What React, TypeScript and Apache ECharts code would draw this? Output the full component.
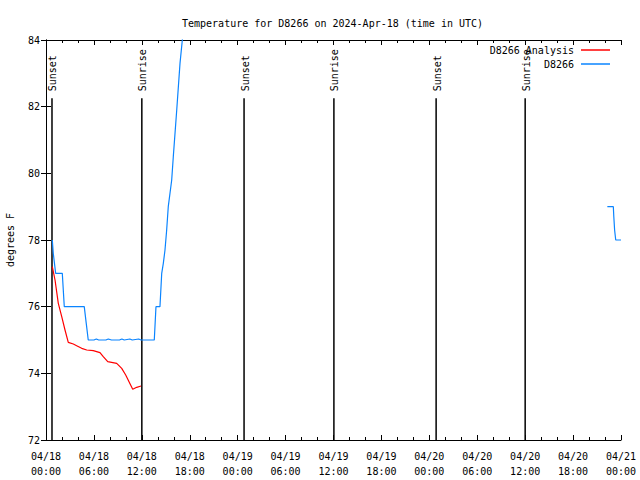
import React, { useEffect, useRef } from "react";
import * as echarts from "echarts";

// hours since 2024-04-18 00:00 UTC
const xTickHours = [0, 6, 12, 18, 24, 30, 36, 42, 48, 54, 60, 66, 72];
const xTickLabels = [
  "04/18\n00:00", "04/18\n06:00", "04/18\n12:00", "04/18\n18:00",
  "04/19\n00:00", "04/19\n06:00", "04/19\n12:00", "04/19\n18:00",
  "04/20\n00:00", "04/20\n06:00", "04/20\n12:00", "04/20\n18:00",
  "04/21\n00:00",
];
const yTicks = [72, 74, 76, 78, 80, 82, 84];

const sunEventHours = [0.75, 12.0, 24.8, 36.05, 48.85, 60.0];
const sunEventNames = ["Sunset", "Sunrise", "Sunset", "Sunrise", "Sunset", "Sunrise"];

const analysisHours = [0.79, 1.13, 1.54, 1.97, 2.38, 2.79, 3.42, 3.84, 4.47, 5.1, 5.92, 6.76, 7.17, 7.73, 8.85, 9.48, 9.98, 10.86, 11.36, 11.9];
const analysisTemps = [77.2, 76.8, 76.1, 75.7, 75.3, 74.93, 74.88, 74.83, 74.75, 74.7, 74.68, 74.62, 74.5, 74.35, 74.3, 74.15, 73.95, 73.52, 73.58, 73.62];

const obsHours = [
  0.79, 0.91, 1.21, 2.04, 2.29, 4.79, 5.04, 5.29, 6.0, 6.3, 6.6, 7.5, 7.8, 8.2, 9.2, 9.5, 9.8, 10.5, 10.8, 11.6, 11.9,
  13.56, 13.77, 14.27, 14.49, 14.69, 14.9, 15.11, 15.31, 15.74, 15.94, 16.37, 16.78, 17.07, 17.5, 18.0,
  null,
  70.29, 71.04, 71.1, 71.2, 71.34, 72.0,
];
const obsTemps = [
  78, 77.6, 77, 77, 76, 76, 75.5, 75, 75, 75.03, 75, 75, 75.03, 75, 75, 75.03, 75, 75.03, 75, 75.03, 75,
  75, 76, 76, 77, 77.3, 77.7, 78.3, 79, 79.8, 80.5, 81.9, 83.3, 84, 85, 86,
  null,
  79, 79, 78.7, 78.3, 78, 78,
];

const FONT = "DejaVu Sans Mono";

export default function App() {
  const ref = useRef<HTMLDivElement>(null);
  useEffect(() => {
    if (!ref.current) return;
    const chart = echarts.init(ref.current, null, { renderer: "svg" });
    const labelFor = (v: number) => {
      const i = xTickHours.indexOf(Math.round(v));
      return i >= 0 ? xTickLabels[i] : "";
    };
    const xBase = {
      type: "value" as const,
      min: 0,
      max: 72,
      interval: 6,
      splitLine: { show: false },
      axisLine: { show: true, lineStyle: { color: "#000", width: 1 } },
      axisTick: { show: true, inside: true, length: 5, lineStyle: { color: "#000" } },
      minorTick: { show: true, splitNumber: 3, length: 3, lineStyle: { color: "#000" } },
    };
    const yBase = {
      type: "value" as const,
      min: 72,
      max: 84,
      interval: 2,
      splitLine: { show: false },
      axisLine: { show: true, lineStyle: { color: "#000", width: 1 } },
      axisTick: { show: true, inside: true, length: 5, lineStyle: { color: "#000" } },
    };
    const pair = (xs: (number | null)[], ys: (number | null)[]) =>
      xs.map((x, i) => (x === null || ys[i] === null ? [null, null] : [x, ys[i]]));

    const legendBase = {
      right: 30,
      padding: 0,
      align: "right",
      icon: "rect",
      itemWidth: 29,
      itemHeight: 1.5,
      itemGap: 0,
      textStyle: { fontFamily: FONT, fontSize: 10, color: "#000", padding: [0, 2, 0, 0] },
    };

    chart.setOption({
      animation: false,
      backgroundColor: "#fff",
      textStyle: { fontFamily: FONT },
      title: {
        text: "Temperature for D8266 on 2024-Apr-18 (time in UTC)",
        left: 177,
        top: 13,
        textStyle: { fontFamily: FONT, fontSize: 10, fontWeight: "normal", color: "#000" },
      },
      grid: { left: 46, right: 19, top: 40, bottom: 40, show: false, containLabel: false, outerBoundsMode: "none" },
      legend: [
        { ...legendBase, data: ["D8266 Analysis"], top: 45 },
        { ...legendBase, data: ["D8266"], top: 59 },
      ],
      xAxis: [
        {
          ...xBase,
          position: "bottom",
          axisLabel: {
            show: true,
            margin: 9,
            fontFamily: FONT,
            fontSize: 10,
            color: "#000",
            lineHeight: 15,
            formatter: (v: number) => labelFor(v),
          },
        },
        { ...xBase, position: "top", axisLabel: { show: false } },
      ],
      yAxis: [
        {
          ...yBase,
          position: "left",
          name: "degrees F",
          nameLocation: "middle",
          nameGap: 31,
          nameRotate: 90,
          nameTextStyle: { fontFamily: FONT, fontSize: 10, color: "#000" },
          axisLabel: {
            show: true,
            margin: 6,
            fontFamily: FONT,
            fontSize: 10,
            color: "#000",
            formatter: (v: number) => (yTicks.includes(v) ? String(v) : ""),
          },
        },
        { ...yBase, position: "right", axisLabel: { show: false } },
      ],
      series: [
        {
          name: "Sun",
          type: "custom",
          xAxisIndex: 0,
          yAxisIndex: 0,
          clip: false,
          silent: true,
          data: sunEventHours.map((h) => [h]),
          encode: { x: 0 },
          renderItem: (params: any, api: any) => {
            const x = api.value(0);
            const p0 = api.coord([x, 72]);
            const p1 = api.coord([x, 82.25]);
            const name = sunEventNames[params.dataIndex];
            return {
              type: "group",
              children: [
                {
                  type: "line",
                  shape: { x1: p0[0], y1: p0[1], x2: p1[0], y2: p1[1] },
                  style: { stroke: "#000", lineWidth: 1.5 },
                },
                {
                  type: "text",
                  x: p1[0] + 1,
                  y: p1[1] - 7,
                  rotation: Math.PI / 2,
                  style: {
                    text: name,
                    fill: "#000",
                    font: `10px '${FONT}'`,
                    align: "left",
                    verticalAlign: "middle",
                  },
                },
              ],
            };
          },
        },
        {
          name: "D8266 Analysis",
          type: "line",
          symbol: "none",
          xAxisIndex: 0,
          yAxisIndex: 0,
          data: pair(analysisHours, analysisTemps),
          lineStyle: { color: "#ff0000", width: 1.2 },
          itemStyle: { color: "#ff0000" },
          clip: true,
        },
        {
          name: "D8266",
          type: "line",
          symbol: "none",
          xAxisIndex: 0,
          yAxisIndex: 0,
          connectNulls: false,
          data: pair(obsHours, obsTemps),
          lineStyle: { color: "#0a84ff", width: 1.2 },
          itemStyle: { color: "#0a84ff" },
          clip: true,
        },
      ],
    });
    return () => chart.dispose();
  }, []);
  return (
    <div
      ref={ref}
      style={{ position: "fixed", left: 0, top: 0, width: 640, height: 480, background: "#fff" }}
    />
  );
}
